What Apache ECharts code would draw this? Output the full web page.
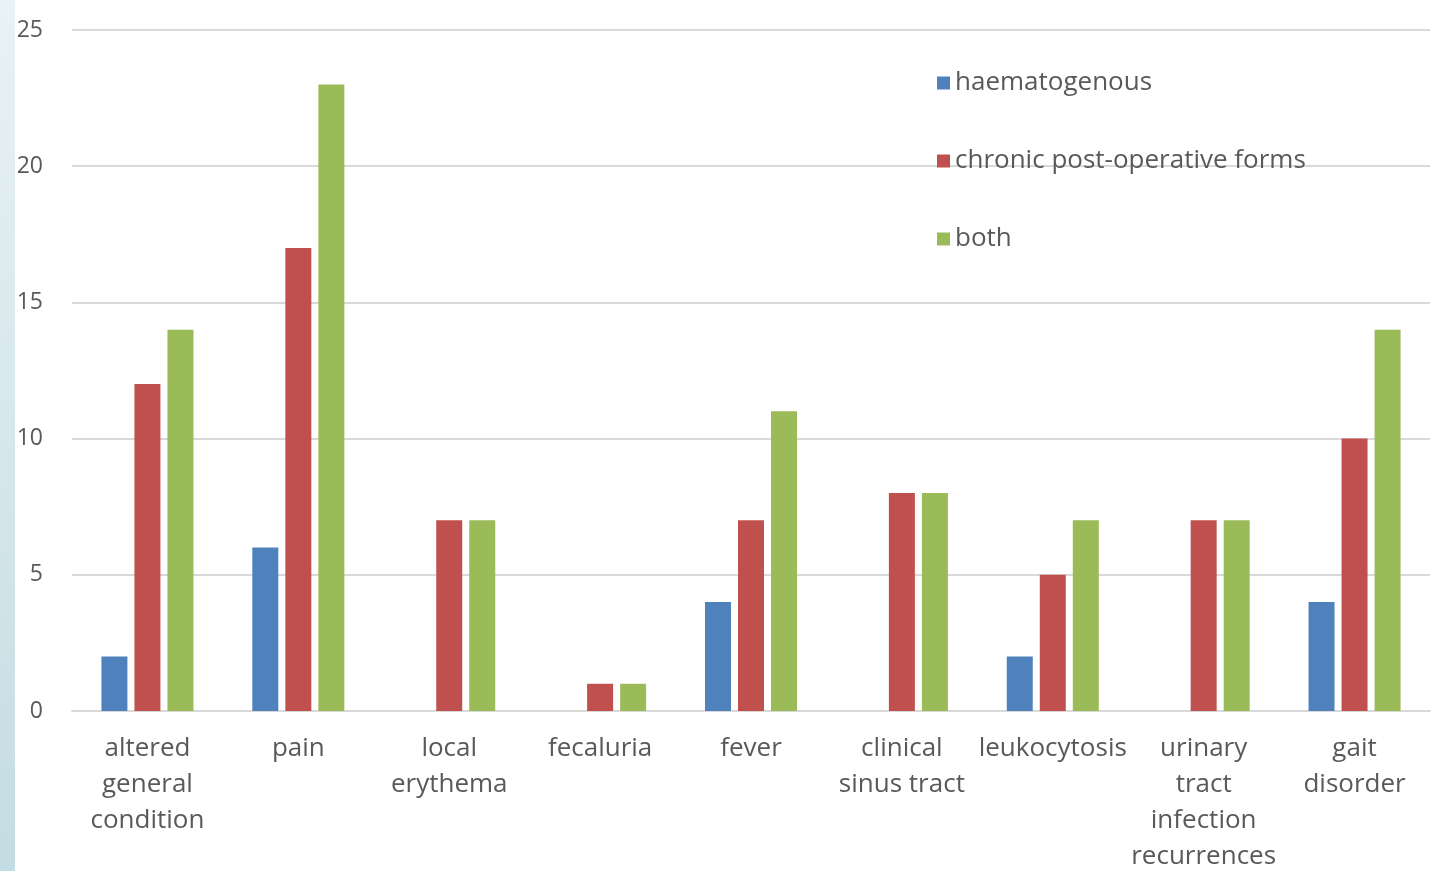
<!DOCTYPE html>
<html>
<head>
<meta charset="utf-8">
<style>
  html, body { margin: 0; padding: 0; background: #ffffff; }
  #chart { width: 1437px; height: 871px; }
</style>
<script src="https://cdn.jsdelivr.net/npm/echarts@6/dist/echarts.min.js"></script>
</head>
<body>
<div id="chart"></div>
<script>
// Clinical signs by form of infection
const categories = [
  'altered\ngeneral\ncondition',
  'pain',
  'local\nerythema',
  'fecaluria',
  'fever',
  'clinical\nsinus tract',
  'leukocytosis',
  'urinary\ntract\ninfection\nrecurrences',
  'gait\ndisorder'
];
const seriesNames = ['haematogenous', 'chronic post-operative forms', 'both'];
const haematogenous = [2, 6, 0, 0, 4, 0, 2, 0, 4];
const chronicPostOperative = [12, 17, 7, 1, 7, 8, 5, 7, 10];
const both = [14, 23, 7, 1, 11, 8, 7, 7, 14];
const yTicks = { min: 0, max: 25, interval: 5 };

const colors = ['#4f81bd', '#c0504d', '#9bbb59'];
const textColor = '#595959';
const fontFamily = '"Open Sans", "Noto Sans", sans-serif';

const chart = echarts.init(document.getElementById('chart'));

function barSeries(name, data, color) {
  return {
    name: name,
    type: 'bar',
    data: data,
    barWidth: 26,
    barGap: '27%',
    itemStyle: { color: color }
  };
}

chart.setOption({
  animation: false,
  color: colors,
  graphic: [{
    type: 'rect',
    left: 0,
    top: 0,
    shape: { width: 15, height: 871 },
    style: {
      fill: new echarts.graphic.LinearGradient(0, 0, 0, 1, [
        { offset: 0, color: '#e9f2f4' },
        { offset: 1, color: '#c4dce3' }
      ])
    },
    silent: true
  }],
  grid: { left: 72, right: 7, top: 30, bottom: 160, outerBoundsMode: 'none' },
  legend: {
    orient: 'vertical',
    left: 932,
    top: 62,
    itemWidth: 13,
    itemHeight: 13,
    itemGap: 46,
    icon: 'rect',
    data: seriesNames,
    textStyle: {
      color: textColor,
      fontSize: 26,
      lineHeight: 32,
      fontFamily: fontFamily,
      padding: [0, 0, 0, 0]
    }
  },
  xAxis: {
    type: 'category',
    data: categories,
    axisLine: { lineStyle: { color: '#d9d9d9', width: 2 } },
    axisTick: { show: false },
    axisLabel: {
      interval: 0,
      color: textColor,
      fontSize: 26,
      lineHeight: 36.3,
      margin: 19,
      fontFamily: fontFamily
    }
  },
  yAxis: {
    type: 'value',
    min: yTicks.min,
    max: yTicks.max,
    interval: yTicks.interval,
    axisLine: { show: false },
    axisTick: { show: false },
    splitLine: { lineStyle: { color: '#d9d9d9', width: 2 } },
    axisLabel: {
      color: textColor,
      fontSize: 23,
      margin: 29,
      fontFamily: fontFamily
    }
  },
  series: [
    barSeries(seriesNames[0], haematogenous, colors[0]),
    barSeries(seriesNames[1], chronicPostOperative, colors[1]),
    barSeries(seriesNames[2], both, colors[2])
  ]
});
</script>
</body>
</html>
